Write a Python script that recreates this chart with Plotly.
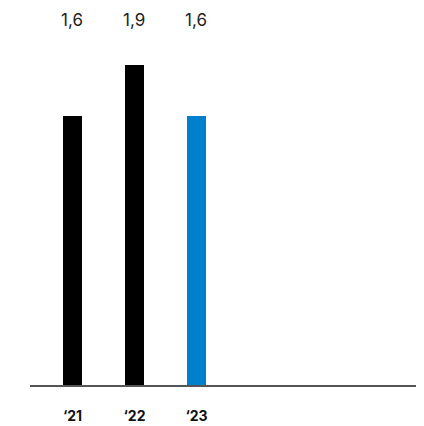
import plotly.graph_objects as go

categories = ["\u201821", "\u201822", "\u201823"]
values = [1.6, 1.9, 1.6]
labels = ["1,6", "1,9", "1,6"]
colors = ["#000000", "#000000", "#0080CC"]

xpos = list(range(len(categories)))

fig = go.Figure()
fig.add_trace(go.Bar(
    x=xpos, y=values, width=0.31,
    marker=dict(color=colors, line=dict(width=0)),
    hoverinfo="skip", showlegend=False,
))

for xi, lab in zip(xpos, labels):
    fig.add_annotation(x=xi, y=0.968, xref="x", yref="paper", yanchor="middle",
                       text=lab, showarrow=False,
                       font=dict(family="Inter", size=17, color="#222222"))

fig.update_layout(
    width=416, height=418,
    margin=dict(l=22, r=8, t=0, b=41),
    paper_bgcolor="white", plot_bgcolor="white",
    bargap=0,
)
fig.update_xaxes(
    range=[-0.685, 5.54],
    tickmode="array", tickvals=xpos, ticktext=categories,
    showgrid=False, zeroline=False,
    showline=True, linecolor="#555555", linewidth=2,
    ticks="", ticklabelstandoff=17,
    tickfont=dict(family="Inter", size=14, color="#111111", weight="bold"),
)
fig.update_yaxes(range=[0, 2.241], visible=False, showgrid=False, zeroline=False)

fig.write_html("out.html")
